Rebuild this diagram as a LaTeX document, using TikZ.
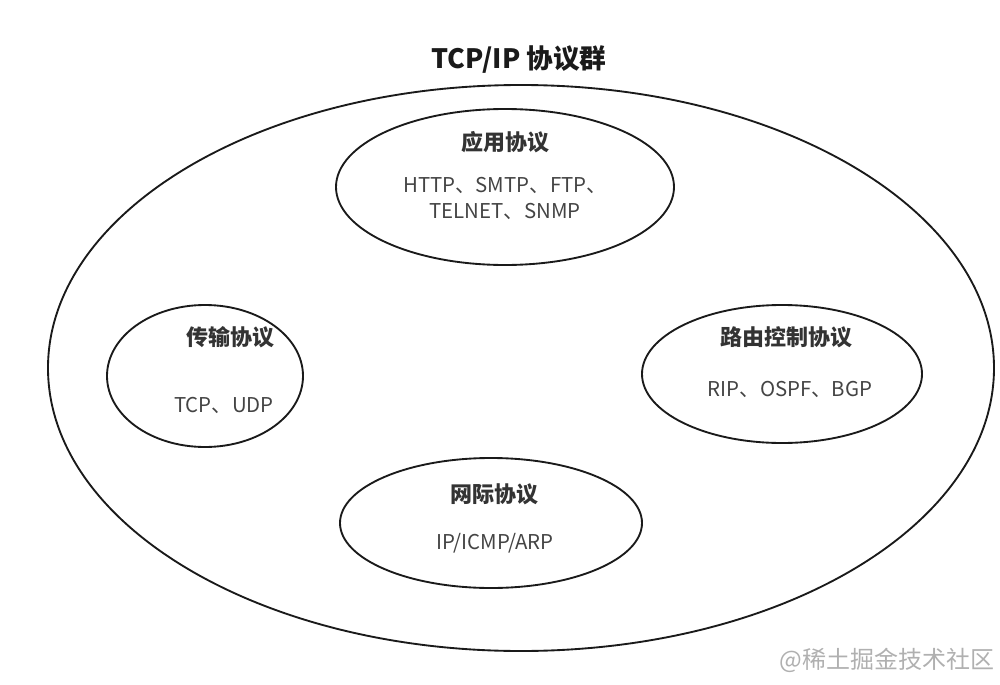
\documentclass[tikz,border=0pt]{standalone}
\usepackage{fontspec}
\setmainfont{Noto Sans CJK SC}
\usetikzlibrary{positioning}
\definecolor{inkc}{HTML}{1A1A1A}
\definecolor{headc}{HTML}{333333}
\definecolor{bodyc}{HTML}{444444}
\definecolor{markc}{HTML}{B0B0B0}
\tikzset{
  blob/.style={draw=inkc, line width=1.4pt},
  title/.style={font=\fontsize{20pt}{23pt}\selectfont\bfseries, text=inkc},
  head/.style={font=\fontsize{16.5pt}{19pt}\selectfont\bfseries, text=headc},
  body/.style={font=\fontsize{15.3pt}{19.5pt}\selectfont, text=bodyc, align=center},
}
\begin{document}
\begin{tikzpicture}[x=0.75pt, y=-0.75pt]
  \useasboundingbox (0,0) rectangle (1000,685);

  % Title
  \node[title] (ttl) at (519,60) {TCP/IP 协议群};

  % Outer ellipse: the protocol suite
  \draw[blob] (521,368) ellipse (473 and 283);

  % Application protocols
  \draw[blob] (505,187) ellipse (169 and 78);
  \node[head] (apph) at (505,142) {应用协议};
  \node[body] (appb) at (505,198) {HTTP、SMTP、FTP、\\TELNET、SNMP};

  % Transport protocols
  \draw[blob] (205,376) ellipse (98 and 71);
  \node[head] (trph) at (230,337) {传输协议};
  \node[body] (trpb) at (224,405) {TCP、UDP};

  % Routing control protocols
  \draw[blob] (782,374) ellipse (140 and 69);
  \node[head] (rteh) at (786,337) {路由控制协议};
  \node[body] (rteb) at (790,389) {RIP、OSPF、BGP};

  % Internet protocols
  \draw[blob] (491,523) ellipse (151 and 65);
  \node[head] (neth) at (494,494) {网际协议};
  \node[body] (netb) at (495,543) {IP/ICMP/ARP};

  % Watermark
  \node[anchor=east, text=markc, font=\fontsize{18pt}{20pt}\selectfont] (mark) at (999,660) {@稀土掘金技术社区};
\end{tikzpicture}
\end{document}
